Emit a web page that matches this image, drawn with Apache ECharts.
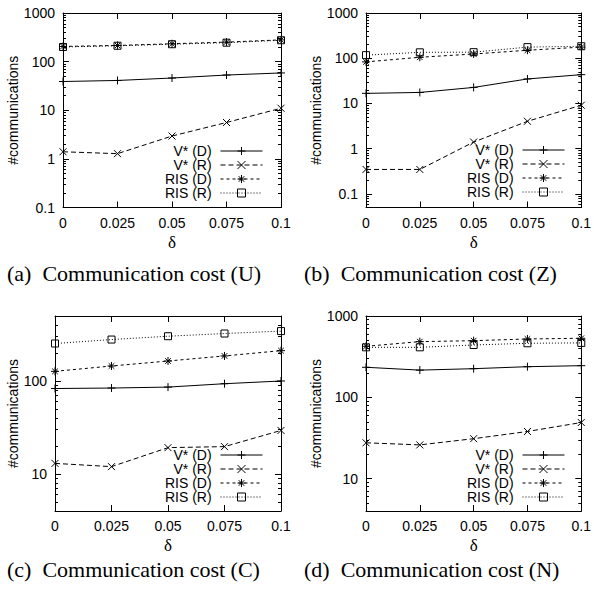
<!DOCTYPE html>
<html><head><meta charset="utf-8">
<script src="https://cdn.jsdelivr.net/npm/echarts@6/dist/echarts.min.js"></script>
<style>html,body{margin:0;padding:0;background:#fff}#c{width:594px;height:592px}</style>
</head><body><div id="c"></div>
<script>
// ---- data ----
const deltas = [0, 0.025, 0.05, 0.075, 0.1];
const xTickInterval = 0.025;
const seriesNames = ['V* (D)', 'V* (R)', 'RIS (D)', 'RIS (R)'];
const captions = ['(a)  Communication cost (U)', '(b)  Communication cost (Z)', '(c)  Communication cost (C)', '(d)  Communication cost (N)'];
const yLabel = '#communications';
const xLabel = 'δ';

// (a) U
const a_vd = [39, 41, 46, 53, 58.5];
const a_vr = [1.4, 1.28, 2.95, 5.6, 11];
const a_rd = [205, 215, 233, 252, 280];
const a_rr = [200, 212, 228, 245, 275];
// (b) Z
const b_vd = [16.7, 17.5, 22.6, 34.8, 43.3];
const b_vr = [0.347, 0.347, 1.4, 4.03, 9.13];
const b_rd = [83, 105, 124, 150, 176];
const b_rr = [117, 135, 136, 176, 184];
// (c) C
const c_vd = [83, 84, 86, 93.5, 100];
const c_vr = [13, 12, 19.2, 19.7, 29.4];
const c_rd = [127, 145, 164, 186, 212];
const c_rr = [253, 279, 303, 324, 344];
// (d) N
const d_vd = [234, 216, 225, 238, 245];
const d_vr = [27.6, 26, 31, 38, 49];
const d_rd = [424, 484, 497, 522, 532];
const d_rr = [412, 412, 440, 462, 467];

const yRanges = [[0.1, 1000], [0.05, 1000], [4, 500], [4, 1000]];

// ---- layout / style ----
const SANS = 'Liberation Sans, Arial, sans-serif';
const SERIF = 'Liberation Serif, Times New Roman, serif';
const panels = [
  {grid: {left: 63, top: 13, width: 218, height: 194.5}, data: [a_vd, a_vr, a_rd, a_rr], nameGap: 43, legend: {right: 331, top: 144}, caption: {left: 7, top: 262}},
  {grid: {left: 366, top: 13, width: 217, height: 194.5}, data: [b_vd, b_vr, b_rd, b_rr], nameGap: 40, legend: {right: 29, top: 143}, caption: {left: 304, top: 262}},
  {grid: {left: 55, top: 316, width: 226, height: 195}, data: [c_vd, c_vr, c_rd, c_rr], nameGap: 35, legend: {right: 331, top: 448}, caption: {left: 7, top: 558}},
  {grid: {left: 366, top: 316, width: 217, height: 195}, data: [d_vd, d_vr, d_rd, d_rr], nameGap: 39, legend: {right: 29, top: 448}, caption: {left: 304, top: 558}}
];
const PLUS = 'path://M5,0L5,10M0,5L10,5';
const CROSS = 'path://M0,0L10,10M10,0L0,10';
const STAR = 'path://M5,0L5,10M0,5L10,5M1.5,1.5L8.5,8.5M8.5,1.5L1.5,8.5';
const SQUARE = 'path://M0,0L10,0L10,10L0,10Z';
const styles = [
  {symbol: PLUS, dash: 'solid', size: 8},
  {symbol: CROSS, dash: [5, 3], size: 7},
  {symbol: STAR, dash: [3, 3], size: 8},
  {symbol: SQUARE, dash: [1, 2], size: 7}
];

function isDecade(v) { const l = Math.log10(v); return Math.abs(l - Math.round(l)) < 1e-9; }
function minorTicks(lo, hi) {
  const out = [];
  for (let k = Math.floor(Math.log10(lo)) - 1; k <= Math.ceil(Math.log10(hi)); k++) {
    for (let m = 2; m <= 9; m++) {
      const v = m * Math.pow(10, k);
      if (v > lo * 1.0001 && v < hi * 0.9999) out.push(Math.log10(v));
    }
  }
  return out;
}

const option = {
  animation: false,
  backgroundColor: '#fff',
  title: [], grid: [], xAxis: [], yAxis: [], legend: [], series: []
};
const blk = () => ({color: '#000', width: 1});
const lineOn = () => ({show: true, onZero: false, lineStyle: blk()});
const tick = len => ({show: true, inside: true, length: len, lineStyle: blk()});

panels.forEach((p, i) => {
  const [lo, hi] = yRanges[i];
  option.grid.push(Object.assign({containLabel: false}, p.grid));
  option.title.push({
    text: captions[i], left: p.caption.left, top: p.caption.top, padding: 0,
    textStyle: {fontFamily: SERIF, fontSize: 22, fontWeight: 'normal', color: '#000'}
  });
  option.xAxis.push({
    type: 'value', gridIndex: i, position: 'bottom', min: deltas[0], max: deltas[deltas.length - 1], interval: xTickInterval,
    axisLine: lineOn(), axisTick: tick(6),
    axisLabel: {margin: 8, fontSize: 14, fontFamily: SANS, color: '#000', formatter: v => String(+v.toPrecision(4))},
    splitLine: {show: false},
    name: xLabel, nameLocation: 'middle', nameGap: 26,
    nameTextStyle: {fontFamily: SERIF, fontSize: 17, color: '#000'}
  });
  option.xAxis.push({
    type: 'value', gridIndex: i, position: 'top', min: deltas[0], max: deltas[deltas.length - 1], interval: xTickInterval,
    axisLine: lineOn(), axisTick: tick(6),
    axisLabel: {show: false}, splitLine: {show: false}
  });
  option.yAxis.push({
    type: 'log', logBase: 10, gridIndex: i, position: 'left', min: lo, max: hi,
    axisLine: lineOn(), axisTick: tick(6),
    axisLabel: {margin: 8, fontSize: 14, fontFamily: SANS, color: '#000',
      showMinLabel: isDecade(lo), showMaxLabel: isDecade(hi),
      formatter: v => String(+(+v).toPrecision(3))},
    splitLine: {show: false},
    name: yLabel, nameLocation: 'middle', nameGap: p.nameGap,
    nameTextStyle: {fontFamily: SANS, fontSize: 14, color: '#000'}
  });
  option.yAxis.push({
    type: 'log', logBase: 10, gridIndex: i, position: 'right', min: lo, max: hi,
    axisLine: lineOn(), axisTick: tick(6),
    axisLabel: {show: false}, splitLine: {show: false}
  });
  const mt = minorTicks(lo, hi);
  ['left', 'right'].forEach(pos => {
    const t = tick(3);
    t.customValues = mt;
    option.yAxis.push({
      type: 'value', gridIndex: i, position: pos, min: Math.log10(lo), max: Math.log10(hi),
      axisLine: {show: false, onZero: false},
      axisTick: t,
      axisLabel: {show: false}, splitLine: {show: false}
    });
  });
  option.legend.push({
    orient: 'vertical', right: p.legend.right, top: p.legend.top, padding: 0, itemGap: 0,
    itemWidth: 42, itemHeight: 10, align: 'right', selectedMode: false,
    data: seriesNames, formatter: '{name} ',
    itemStyle: {borderWidth: 1},
    lineStyle: {width: 1},
    textStyle: {fontSize: 14, fontFamily: SANS, color: '#000'}
  });
  p.data.forEach((vals, s) => {
    option.series.push({
      type: 'line', name: seriesNames[s], xAxisIndex: 2 * i, yAxisIndex: 4 * i,
      data: deltas.map((x, j) => [x, vals[j]]),
      symbol: styles[s].symbol, symbolSize: styles[s].size, showSymbol: true, showAllSymbol: true,
      clip: false,
      lineStyle: {color: '#000', width: 1, type: styles[s].dash},
      itemStyle: {color: 'none', borderColor: '#000', borderWidth: 1},
      emphasis: {disabled: true}
    });
  });
});

// SVG renderer: every tick is its own element, so none are lost in batched canvas drawing.
const chart = echarts.init(document.getElementById('c'), null, {renderer: 'svg'});
chart.setOption(option);
</script>
</body></html>
